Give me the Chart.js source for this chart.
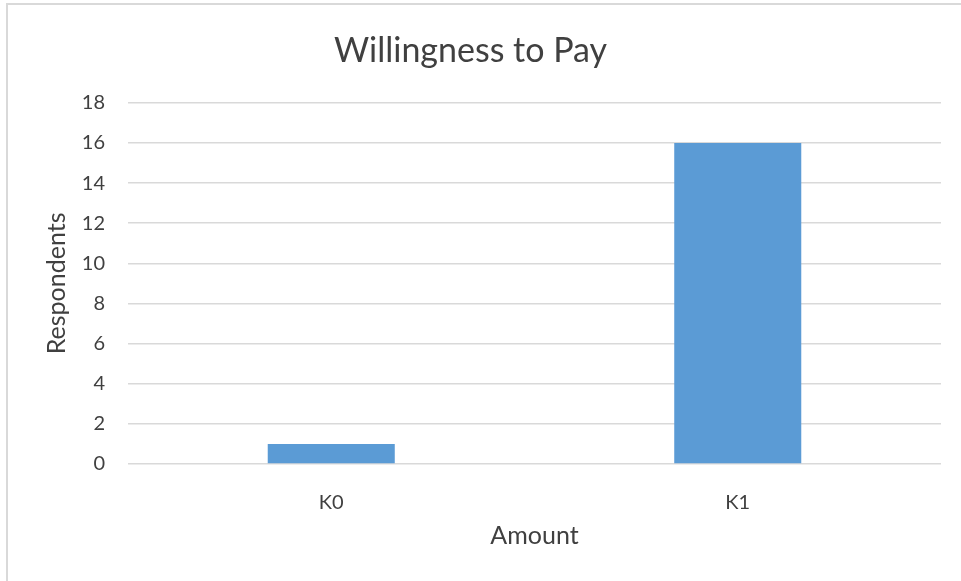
<!DOCTYPE html>
<html>
<head>
<meta charset="utf-8">
<script src="https://cdn.jsdelivr.net/npm/chart.js@4.4.0/dist/chart.umd.min.js"></script>
<style>
  body { margin: 0; background: #fff; }
  #wrap { position: relative; width: 961px; height: 581px; overflow: hidden; }
  #frame { position: absolute; left: 6px; top: 3px; width: 2000px; height: 2000px;
           border-left: 2px solid #d9d9d9; border-top: 2px solid #d9d9d9; }
  canvas { position: absolute; left: 0; top: 0; }
</style>
</head>
<body>
<div id="wrap">
  <div id="frame"></div>
  <canvas id="wtpChart" width="961" height="581"></canvas>
</div>
<script>
    var categories = ['K0', 'K1'];
    var respondents = [1, 16];
    var yTicks = [0, 2, 4, 6, 8, 10, 12, 14, 16, 18];

    var textColor = '#404040';
    var fontName = 'Lato, "Open Sans", sans-serif';

    const ctx = document.getElementById('wtpChart');
    var wtp_Chart = new Chart(ctx, {
        type: 'bar',
        data: {
            labels: categories,
            datasets: [{
                label: 'Respondents',
                data: respondents,
                backgroundColor: '#5b9bd5',
                borderWidth: 0,
                categoryPercentage: 0.3125,
                barPercentage: 1
            }]
        },
        options: {
            responsive: false,
            animation: false,
            layout: {
                padding: { left: 0, right: 20, top: 0, bottom: 0 }
            },
            plugins: {
                legend: { display: false },
                tooltip: { enabled: false },
                title: {
                    display: true,
                    text: 'Willingness to Pay',
                    color: textColor,
                    font: { family: fontName, size: 34, weight: 'normal' },
                    padding: { top: 31, bottom: 31 }
                }
            },
            scales: {
                x: {
                    grid: { display: false },
                    border: { display: false },
                    ticks: {
                        color: textColor,
                        font: { family: fontName, size: 20 },
                        padding: 19
                    },
                    title: {
                        display: true,
                        text: 'Amount',
                        color: textColor,
                        font: { family: fontName, size: 25 },
                        padding: { top: 12, bottom: 30 }
                    },
                    afterFit: function(axis) { axis.height = 117; }
                },
                y: {
                    min: 0,
                    max: 18,
                    afterBuildTicks: function(axis) {
                        axis.ticks = yTicks.map(function(v) { return { value: v }; });
                    },
                    grid: {
                        color: '#d9d9d9',
                        lineWidth: 1.5,
                        drawTicks: false
                    },
                    border: { display: false },
                    ticks: {
                        color: textColor,
                        font: { family: fontName, size: 20 },
                        padding: 23
                    },
                    title: {
                        display: true,
                        text: 'Respondents',
                        color: textColor,
                        font: { family: fontName, size: 25 },
                        padding: { top: 42, bottom: 0 }
                    },
                    afterFit: function(axis) { axis.width = 128; }
                }
            }
        }
    });
</script>
</body>
</html>
